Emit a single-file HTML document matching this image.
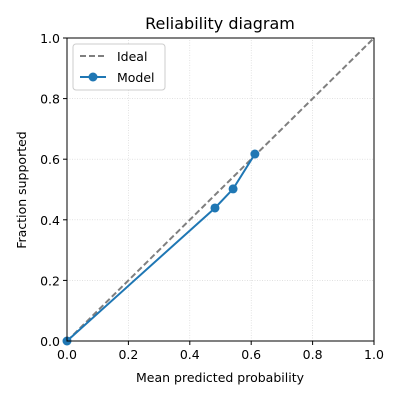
<!DOCTYPE html>
<html><head><meta charset="utf-8"><style>
body{margin:0;background:#fff;}
svg{font-family:"DejaVu Sans","Liberation Sans",sans-serif;}
</style></head><body>
<svg id="chart" width="400" height="400">
<text x="220" y="29" font-size="16" text-anchor="middle">Reliability diagram</text>
<g id="grid"></g><g id="ticks"></g><g id="series"></g>
<rect x="67" y="38" width="307" height="303" fill="none" stroke="#000" stroke-width="1"/>
<text x="220" y="382" font-size="12.5" text-anchor="middle">Mean predicted probability</text>
<text transform="translate(26,190) rotate(-90)" font-size="12.5" text-anchor="middle">Fraction supported</text>
<g>
<rect x="73" y="44" width="92" height="46" rx="3" fill="#fff" stroke="#ccc"/>
<line x1="80" y1="56" x2="106" y2="56" stroke="#7f7f7f" stroke-width="2" stroke-dasharray="6,3"/>
<text x="117" y="61" font-size="12.5">Ideal</text>
<line x1="80" y1="77" x2="106" y2="77" stroke="#1f77b4" stroke-width="2"/>
<circle cx="93" cy="77" r="4.5" fill="#1f77b4"/>
<text x="117" y="82" font-size="12.5">Model</text>
</g>
</svg>
<script>
const ticks=[0,0.2,0.4,0.6,0.8,1.0];
const tickLabels=["0.0","0.2","0.4","0.6","0.8","1.0"];
const meanPred=[0,0.482,0.541,0.612];
const fracPos=[0,0.439,0.502,0.617];
const X0=67,X1=374,Y0=341,Y1=38;
const sx=v=>X0+v*(X1-X0), sy=v=>Y0-v*(Y0-Y1);
const NS="http://www.w3.org/2000/svg";
function mk(t,a,p){const e=document.createElementNS(NS,t);for(const k in a)e.setAttribute(k,a[k]);p.appendChild(e);return e;}
const g=document.getElementById('grid'),tk=document.getElementById('ticks'),s=document.getElementById('series');
ticks.forEach((t,i)=>{
 let l=mk('line',{x1:sx(t),x2:sx(t),y1:Y0,y2:Y1,stroke:'#d0d0d0','stroke-width':0.6,'stroke-dasharray':'1,1.5'},g);
 
 
 l=mk('line',{x1:X0,x2:X1,y1:sy(t),y2:sy(t),stroke:'#d0d0d0','stroke-width':0.6,'stroke-dasharray':'1,1.5'},g);
 
 
 mk('line',{x1:sx(t),x2:sx(t),y1:Y0,y2:Y0+4,stroke:'#000'},tk);
 mk('line',{x1:X0-4,x2:X0,y1:sy(t),y2:sy(t),stroke:'#000'},tk);
 let tx=mk('text',{x:sx(t),y:Y0+18,'font-size':12.5,'text-anchor':'middle'},tk);tx.textContent=tickLabels[i];
 
 
 tx=mk('text',{x:X0-7,y:sy(t)+5,'font-size':12.5,'text-anchor':'end'},tk);tx.textContent=tickLabels[i];
 
 
});
let d=mk('line',{x1:sx(0),y1:sy(0),x2:sx(1),y2:sy(1),stroke:'#7f7f7f','stroke-width':2,'stroke-dasharray':'6,3'},s);


let p=mk('polyline',{points:meanPred.map((v,i)=>sx(v)+','+sy(fracPos[i])).join(' '),fill:'none',stroke:'#1f77b4','stroke-width':2},s);


meanPred.forEach((v,i)=>{const c=mk('circle',{cx:sx(v),cy:sy(fracPos[i]),r:4.5,fill:'#1f77b4'},s);
 
 });
</script>
</body></html>
